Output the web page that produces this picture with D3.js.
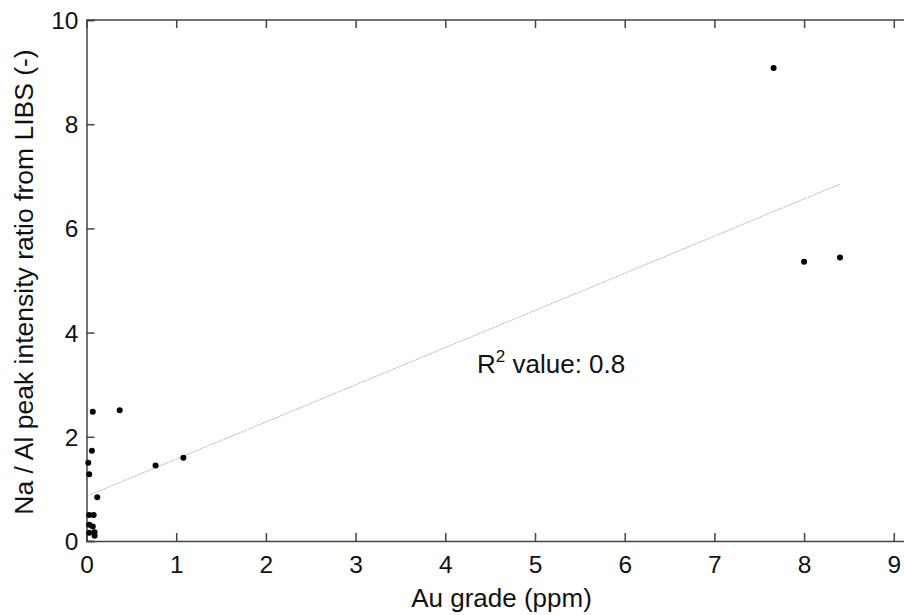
<!DOCTYPE html>
<html><head><meta charset="utf-8">
<script src="https://cdn.jsdelivr.net/npm/d3@7"></script>
<style>
body{margin:0;background:#fff;}
svg{display:block;font-family:Arial,"Liberation Sans",sans-serif;}
</style></head>
<body><svg id="c" width="904" height="615"></svg>
<script>
const auGrade = [0.03,0.08,0.03,0.07,0.03,0.09,0.09,0.12,0.03,0.02,0.06,0.07,0.37,0.77,1.08,7.66,8.0,8.4];
const naAlRatio = [0.50,0.50,0.31,0.28,0.16,0.17,0.10,0.84,1.28,1.50,1.73,2.48,2.51,1.45,1.60,9.08,5.36,5.44];
const fitX = [0.03,8.4];
const fitY = [0.88,6.85];
const xTicks = [0,1,2,3,4,5,6,7,8,9];
const yTicks = [0,2,4,6,8,10];
const xLabel = "Au grade (ppm)";
const yLabel = "Na / Al peak intensity ratio from LIBS (-)";
const r2Label = "value: 0.8";

const svg = d3.select("#c");
const L=86.5, T=20, B=541;
const x = d3.scaleLinear().domain([0,10]).range([L, L+897]);
const y = d3.scaleLinear().domain([0,10]).range([B, T]);
const axisColor="#444";
const ff="Arial, 'Liberation Sans', sans-serif";

svg.append("line").attr("x1",L).attr("x2",904).attr("y1",T).attr("y2",T).attr("stroke",axisColor).attr("stroke-width",1.5);

const gx = svg.append("g").attr("transform",`translate(0,${B})`)
  .call(d3.axisBottom(x).tickValues(xTicks).tickSize(-8).tickPadding(15).tickFormat(d3.format("d")));
const gxt = svg.append("g").attr("transform",`translate(0,${T})`)
  .call(d3.axisTop(x).tickValues(xTicks).tickSize(-8).tickFormat(""));
const gy = svg.append("g").attr("transform",`translate(${L},0)`)
  .call(d3.axisLeft(y).tickValues(yTicks).tickSize(-8).tickPadding(8).tickFormat(d3.format("d")));
[gx,gy,gxt].forEach(g=>{
  g.select(".domain").attr("stroke",axisColor).attr("stroke-width",1.5);
  g.selectAll(".tick line").attr("stroke",axisColor).attr("stroke-width",1.5);
  g.selectAll("text").attr("fill","#111").attr("font-size",24.5).attr("font-family",ff);
});
gxt.select(".domain").remove();
gy.selectAll("text").attr("dy","0.35em");

svg.append("line")
  .attr("x1",x(fitX[0])).attr("y1",y(fitY[0])).attr("x2",x(fitX[1])).attr("y2",y(fitY[1]))
  .attr("stroke","#999").attr("stroke-width",1).attr("stroke-dasharray","1,1");

svg.append("g").selectAll("circle").data(auGrade).join("circle")
  .attr("cx",(d)=>x(d)).attr("cy",(d,i)=>y(naAlRatio[i])).attr("r",3).attr("fill","#000");

const t = svg.append("text").attr("x",477).attr("y",373).attr("font-size",26).attr("fill","#111");
t.append("tspan").text("R");
t.append("tspan").attr("font-size",17).attr("dy",-11).text("2");
t.append("tspan").attr("dy",11).text(" "+r2Label);

svg.append("text").attr("x",501.5).attr("y",607).attr("text-anchor","middle").attr("font-size",26).attr("fill","#111").text(xLabel);
svg.append("text").attr("transform","translate(32.5,282) rotate(-90)").attr("text-anchor","middle").attr("font-size",26.5).attr("fill","#111").text(yLabel);
</script></body></html>
